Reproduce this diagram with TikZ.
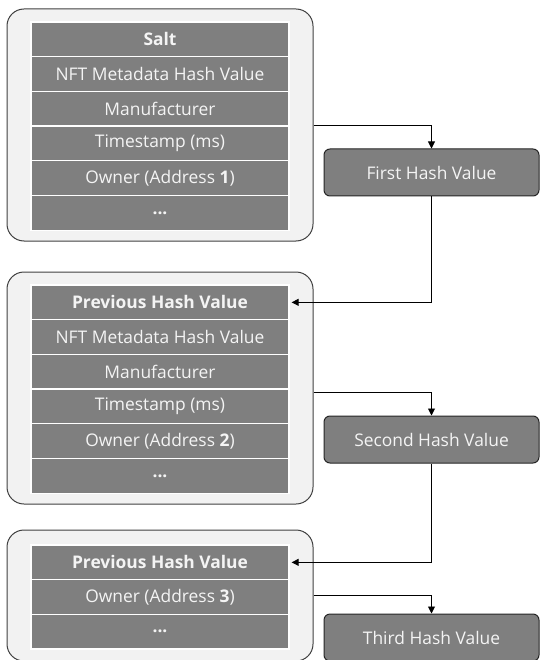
\documentclass[tikz,border=0pt]{standalone}
\usepackage{fontspec}
\setmainfont{Open Sans}
\usetikzlibrary{arrows.meta,positioning}
\definecolor{rowgray}{HTML}{7F7F7F}
\definecolor{outerfill}{HTML}{F2F2F2}
\definecolor{outerline}{HTML}{404040}
\definecolor{hashline}{HTML}{262626}
\definecolor{txt}{HTML}{F4F4F4}
\tikzset{
  rowbox/.style={draw=white, line width=1.3pt, fill=rowgray, minimum width=258pt, minimum height=34.7pt, inner sep=0pt, text=txt, font=\fontsize{17.4}{19}\selectfont},
  outerbox/.style={draw=outerline, line width=1pt, fill=outerfill, rounded corners=17pt, minimum width=306pt, inner sep=0pt},
  hashbox/.style={draw=hashline, line width=1pt, fill=rowgray, rounded corners=6pt, minimum width=215pt, minimum height=47pt, inner sep=0pt, text=txt, font=\fontsize{17.4}{19}\selectfont},
  arr/.style={draw=black, line width=0.9pt, -{Triangle[length=7pt,width=7pt]}}
}
\begin{document}
\begin{tikzpicture}[x=1pt,y=-1pt]
\clip (0,0) rectangle (540,660);
% block 1
\node[outerbox, minimum height=232pt] (b1) at (160,125) {};
\node[rowbox] (b1r1) at (160,39.35) {\bfseries Salt};
\node[rowbox] (b1r2) at (160,74.05) {NFT Metadata Hash Value};
\node[rowbox] (b1r3) at (160,108.75) {Manufacturer};
\node[rowbox] (b1r4) at (160,143.45) {Timestamp (ms)};
\node[rowbox] (b1r5) at (160,178.15) {Owner (Address \textbf{1})};
\node[rowbox] (b1r6) at (160,212.85) {\bfseries ...};
% block 2
\node[outerbox, minimum height=232pt] (b2) at (160,388) {};
\node[rowbox] (b2r1) at (160,302.35) {\bfseries Previous Hash Value};
\node[rowbox] (b2r2) at (160,337.05) {NFT Metadata Hash Value};
\node[rowbox] (b2r3) at (160,371.75) {Manufacturer};
\node[rowbox] (b2r4) at (160,406.45) {Timestamp (ms)};
\node[rowbox] (b2r5) at (160,441.15) {Owner (Address \textbf{2})};
\node[rowbox] (b2r6) at (160,475.85) {\bfseries ...};
% block 3
\node[outerbox, minimum height=131pt] (b3) at (160,595.5) {};
\node[rowbox] (b3r1) at (160,562.35) {\bfseries Previous Hash Value};
\node[rowbox] (b3r2) at (160,597.05) {Owner (Address \textbf{3})};
\node[rowbox] (b3r3) at (160,631.75) {\bfseries ...};
% hash boxes
\node[hashbox] (h1) at (431.5,172.5) {First Hash Value};
\node[hashbox] (h2) at (431.5,439.5) {Second Hash Value};
\node[hashbox] (h3) at (431.5,637.5) {Third Hash Value};
% connectors
\draw[arr] (b1.east) -| (h1.north);
\draw[arr] (h1.south) |- ([xshift=2pt]b2r1.east);
\draw[arr] ([yshift=-4pt]b2.east) -| (h2.north);
\draw[arr] (h2.south) |- ([xshift=2pt]b3r1.east);
\draw[arr] (b3.east) -| (h3.north);
\end{tikzpicture}
\end{document}
